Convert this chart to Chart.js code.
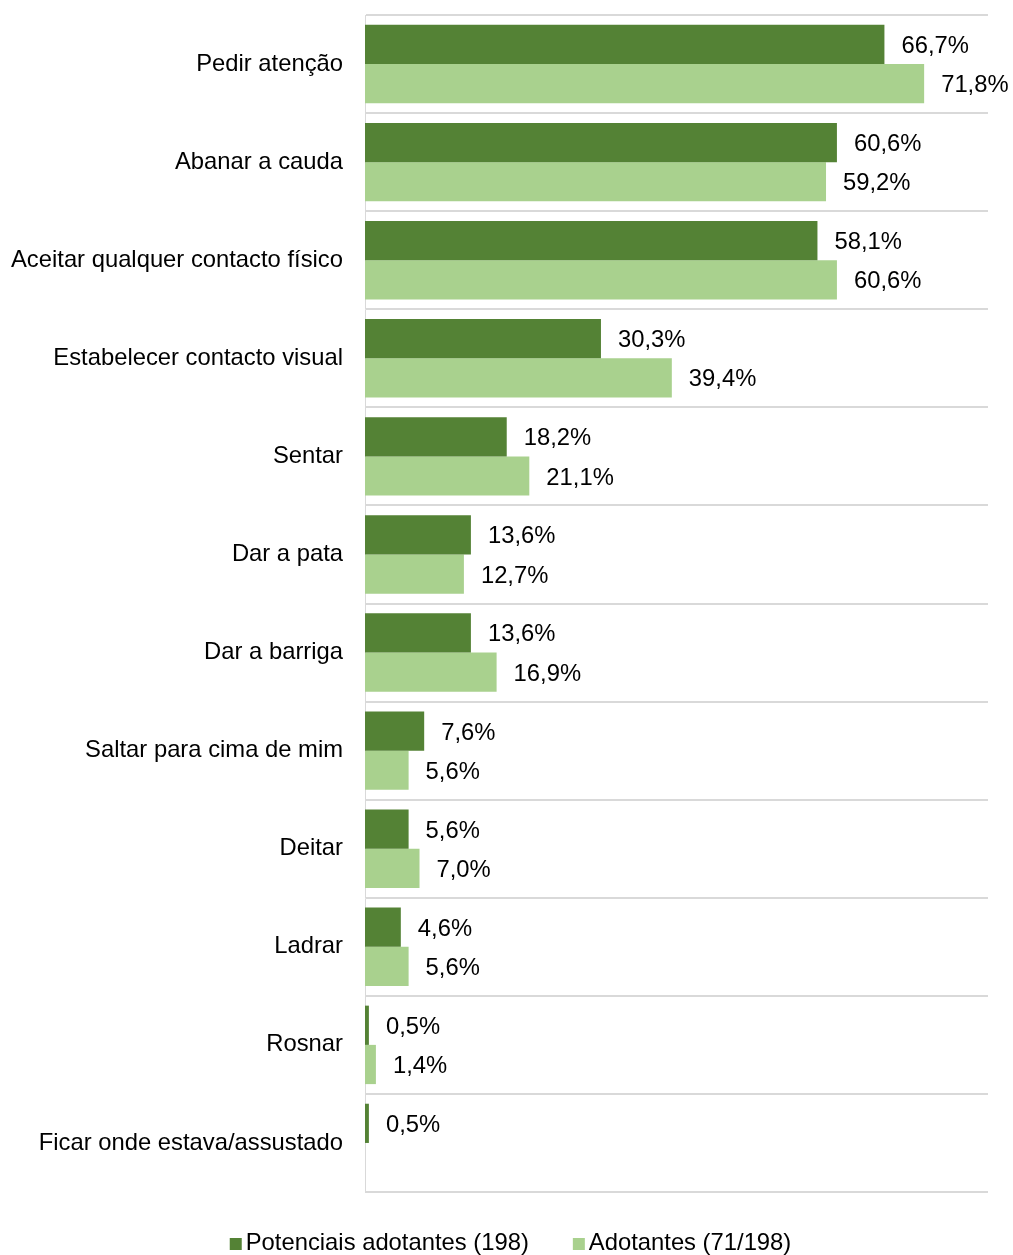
<!DOCTYPE html>
<html>
<head>
<meta charset="utf-8">
<script src="https://cdn.jsdelivr.net/npm/chart.js@4.4.0/dist/chart.umd.min.js"></script>
<style>
  html, body { margin: 0; padding: 0; background: #fff; }
  #wrap { width: 1013px; height: 1255px; }
</style>
</head>
<body>
<div id="wrap"><canvas id="chart"></canvas></div>
<script>
const categories = [
  'Pedir atenção',
  'Abanar a cauda',
  'Aceitar qualquer contacto físico',
  'Estabelecer contacto visual',
  'Sentar',
  'Dar a pata',
  'Dar a barriga',
  'Saltar para cima de mim',
  'Deitar',
  'Ladrar',
  'Rosnar',
  'Ficar onde estava/assustado',
];
const potenciais = [66.7, 60.6, 58.1, 30.3, 18.2, 13.6, 13.6, 7.6, 5.6, 4.6, 0.5, 0.5];
const adotantes = [71.8, 59.2, 60.6, 39.4, 21.1, 12.7, 16.9, 5.6, 7.0, 5.6, 1.4, null];
const seriesNames = ['Potenciais adotantes (198)', 'Adotantes (71/198)'];
const colors = ['#548235', '#a9d18e'];

const FONT = '"Liberation Sans", Arial, sans-serif';

const fmt = v => v.toFixed(1).replace('.', ',') + '%';

// value labels at the end of each bar
const barLabels = {
  id: 'barLabels',
  afterDatasetsDraw(chart) {
    const ctx = chart.ctx;
    ctx.save();
    ctx.font = '23.8px ' + FONT;
    ctx.fillStyle = '#000';
    ctx.textAlign = 'left';
    ctx.textBaseline = 'middle';
    chart.data.datasets.forEach((ds, i) => {
      const meta = chart.getDatasetMeta(i);
      meta.data.forEach((bar, j) => {
        const v = ds.data[j];
        if (v === null || v === undefined) return;
        ctx.fillText(fmt(v), bar.x + 17, bar.y + 2);
      });
    });
    ctx.restore();
  },
};

// legend centred under the plot
const bottomLegend = {
  id: 'bottomLegend',
  afterDraw(chart) {
    const ctx = chart.ctx;
    ctx.save();
    ctx.font = '23.8px ' + FONT;
    ctx.textBaseline = 'middle';
    ctx.textAlign = 'left';
    const box = 12, gap = 4, itemGap = 44;
    const widths = seriesNames.map(t => ctx.measureText(t).width);
    const total = widths.reduce((a, w) => a + box + gap + w, 0) + itemGap * (seriesNames.length - 1);
    let x = (chart.width - total) / 2 + 4;
    const cy = 1243;
    seriesNames.forEach((name, i) => {
      ctx.fillStyle = colors[i];
      ctx.fillRect(x, cy - 5, box, box);
      ctx.fillStyle = '#000';
      ctx.fillText(name, x + box + gap, cy);
      x += box + gap + widths[i] + itemGap;
    });
    ctx.restore();
  },
};

new Chart(document.getElementById('chart'), {
  type: 'bar',
  data: {
    labels: categories,
    datasets: [
      { label: seriesNames[0], data: potenciais, backgroundColor: colors[0] },
      { label: seriesNames[1], data: adotantes, backgroundColor: colors[1] },
    ],
  },
  options: {
    indexAxis: 'y',
    responsive: true,
    maintainAspectRatio: false,
    animation: false,
    categoryPercentage: 0.8,
    barPercentage: 1.0,
    layout: { padding: { top: 15, right: 25, bottom: 63, left: 0 } },
    scales: {
      x: {
        display: false,
        min: 0,
        max: 80,
      },
      y: {
        afterFit: scale => {
          scale.width = 365;
          scale.paddingTop = 0;
          scale.paddingBottom = 0;
        },
        ticks: {
          color: '#000',
          padding: 22,
          font: { family: FONT, size: 23.8 },
        },
        grid: {
          offset: true,
          color: '#d9d9d9',
          lineWidth: 2,
          drawTicks: false,
          tickLength: 0,
        },
        border: { color: '#d9d9d9', width: 1 },
      },
    },
    plugins: {
      legend: { display: false },
      tooltip: { enabled: false },
    },
  },
  plugins: [barLabels, bottomLegend],
});
</script>
</body>
</html>
